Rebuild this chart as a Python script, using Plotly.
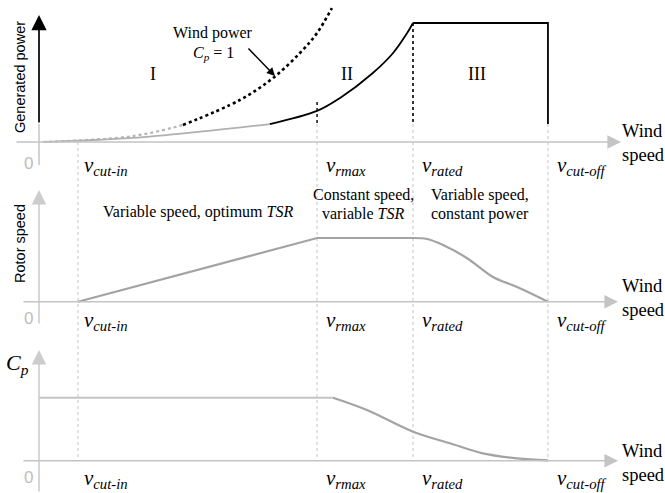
import plotly.graph_objects as go

W, H = 665, 493

# ---------------- data (arbitrary units) ----------------
speed_names = ["cut-in", "rmax", "rated", "cut-off"]
speed_values = [1.0, 7.13, 9.59, 13.05]

# generated power (normalised to rated power)
power_v_grey = [0.10, 1.00, 2.41, 4.13, 5.92]
power_p_grey = [0.0, 0.011, 0.034, 0.087, 0.151]
power_v_black = [5.92, 7.13, 7.72, 8.56, 9.08, 9.44, 9.59]
power_p_black = [0.151, 0.261, 0.370, 0.580, 0.748, 0.916, 1.0]
plateau_v = [9.59, 13.05, 13.05]
plateau_p = [1.0, 1.0, 0.151]

# wind power, Cp = 1
wind_v_grey = [0.10, 2.41, 3.69]
wind_p_grey = [0.0, 0.050, 0.143]
wind_v_black = [3.69, 5.15, 6.00, 6.69, 7.13, 7.51]
wind_p_black = [0.143, 0.353, 0.538, 0.748, 0.916, 1.126]

# rotor speed (normalised)
rotor_v = [1.0, 7.13, 9.59, 9.95, 10.36, 10.97, 11.64, 12.26, 13.05]
rotor_w = [0.0, 1.0, 1.0, 0.984, 0.89, 0.686, 0.388, 0.231, 0.0]

# power coefficient (normalised)
cp_v = [0.0, 7.54, 8.41, 9.59, 10.54, 11.38, 12.26, 13.05]
cp_c = [1.0, 1.0, 0.805, 0.46, 0.276, 0.117, 0.038, 0.006]

region_labels = ["I", "II", "III"]

# ---------------- geometry helpers (layout only) ----------------
X0PX, XSCALE = 39.0, 39.0          # pixel of v=0, pixels per unit
XRANGE = [(0 - X0PX) / XSCALE, (W - X0PX) / XSCALE]

# panels: (top px, bottom px, zero px, px per unit)
panels = [(0, 170, 142.0, 119.0), (170, 330, 301.7, 63.7), (330, H, 460.7, 63.0)]


def px2v(px):
    return (px - X0PX) / XSCALE


def px2y(i, py):
    t, b, z, s = panels[i]
    return (z - py) / s


def pp(px, py):
    return px / W, 1 - py / H


SERIF = "Liberation Serif"
SANS = "Liberation Sans"
GREY = "#c4c4c4"
CURVE_GREY = "#a3a3a3"

fig = go.Figure()

# ---- panel 1: generated power ----
fig.add_trace(go.Scatter(x=wind_v_grey, y=wind_p_grey, mode="lines", line=dict(color="#b5b5b5", width=2.2, dash="dot", shape="spline"), yaxis="y", hoverinfo="skip"))
fig.add_trace(go.Scatter(x=wind_v_black, y=wind_p_black, mode="lines", line=dict(color="black", width=2.6, dash="dot", shape="spline"), yaxis="y", hoverinfo="skip"))
fig.add_trace(go.Scatter(x=power_v_grey, y=power_p_grey, mode="lines", line=dict(color="#b0b0b0", width=1.8, shape="spline"), yaxis="y", hoverinfo="skip"))
fig.add_trace(go.Scatter(x=power_v_black, y=power_p_black, mode="lines", line=dict(color="black", width=1.8, shape="spline"), yaxis="y", hoverinfo="skip"))
fig.add_trace(go.Scatter(x=plateau_v, y=plateau_p, mode="lines", line=dict(color="black", width=1.8), yaxis="y", hoverinfo="skip"))

# ---- panel 2: rotor speed ----
fig.add_trace(go.Scatter(x=rotor_v[:3], y=rotor_w[:3], mode="lines", line=dict(color=CURVE_GREY, width=2.2), xaxis="x", yaxis="y2", hoverinfo="skip"))
fig.add_trace(go.Scatter(x=rotor_v[2:], y=rotor_w[2:], mode="lines", line=dict(color=CURVE_GREY, width=2.2, shape="spline"), xaxis="x", yaxis="y2", hoverinfo="skip"))

# ---- panel 3: Cp ----
fig.add_trace(go.Scatter(x=cp_v[:2], y=cp_c[:2], mode="lines", line=dict(color=GREY, width=2), xaxis="x", yaxis="y3", hoverinfo="skip"))
fig.add_trace(go.Scatter(x=cp_v[1:], y=cp_c[1:], mode="lines", line=dict(color=CURVE_GREY, width=2.2, shape="spline"), xaxis="x", yaxis="y3", hoverinfo="skip"))

shapes = []
# vertical dotted guide lines
for name, v in zip(speed_names, speed_values):
    top_px = 142 if name == "cut-in" else 124
    shapes.append(dict(type="line", xref="x", yref="paper", x0=v, x1=v, y0=1 - top_px / H, y1=1 - 461 / H,
                       line=dict(color=GREY, width=1, dash="dot"), layer="below"))
# black dotted segments in the power panel
shapes.append(dict(type="line", xref="x", yref="y", x0=speed_values[2], x1=speed_values[2], y0=1.0, y1=px2y(0, 124),
                   line=dict(color="black", width=1.6, dash="dot")))
shapes.append(dict(type="line", xref="x", yref="y", x0=speed_values[1], x1=speed_values[1], y0=px2y(0, 102), y1=px2y(0, 124),
                   line=dict(color="black", width=1.4, dash="dot")))
# grey lower part of the power axis
shapes.append(dict(type="line", xref="x", yref="y", x0=0, x1=0, y0=px2y(0, 124), y1=px2y(0, 165),
                   line=dict(color=GREY, width=1.5)))

annotations = []


def arrow(yref, x0, y0, x1, y1, color, width, size):
    return dict(xref="x", yref=yref, axref="x", ayref=yref, x=x1, y=y1, ax=x0, ay=y0, text="",
                showarrow=True, arrowhead=2, arrowsize=size, arrowwidth=width, arrowcolor=color, standoff=0)


# axes with arrows
annotations.append(arrow("y", 0, px2y(0, 124), 0, px2y(0, 15), "black", 1.7, 1.8))
annotations.append(arrow("y", px2v(15), 0, px2v(621), 0, GREY, 1.6, 1.7))
annotations.append(arrow("y2", 0, px2y(1, 325), 0, px2y(1, 190), "#cccccc", 1.6, 1.8))
annotations.append(arrow("y2", px2v(22), 0, px2v(618), 0, GREY, 1.6, 1.7))
annotations.append(arrow("y3", 0, px2y(2, 493), 0, px2y(2, 350), "#cccccc", 1.6, 1.8))
annotations.append(arrow("y3", px2v(22), 0, px2v(618), 0, GREY, 1.6, 1.7))

# wind-power pointer
annotations.append(dict(xref="x", yref="y", axref="x", ayref="y", x=px2v(275), y=px2y(0, 76), ax=px2v(247), ay=px2y(0, 47),
                        text="", showarrow=True, arrowhead=2, arrowsize=1.1, arrowwidth=1.5, arrowcolor="black", standoff=0))


def text(px, py, s, size, family=SERIF, color="black", xanchor="center", yanchor="middle", angle=0):
    x, y = pp(px, py)
    return dict(xref="paper", yref="paper", x=x, y=y, text=s, showarrow=False, xanchor=xanchor, yanchor=yanchor,
                textangle=angle, font=dict(family=family, size=size, color=color), align="left", borderpad=0)


annotations.append(text(213, 33, "Wind power", 16))
annotations.append(text(213, 53, "<i>C</i><sub><i>p</i></sub> = 1", 16))
for lab, cx in zip(region_labels, [153, 347, 477]):
    annotations.append(text(cx, 74, lab, 18))
annotations.append(text(20, 77, "Generated power", 14.5, family=SANS, angle=-90))
annotations.append(text(20, 244, "Rotor speed", 14.5, family=SANS, angle=-90))
annotations.append(text(17, 364, "<i>C</i><sub><i>p</i></sub>", 22))

annotations.append(text(198, 212, "Variable speed, optimum <i>TSR</i>", 16))
annotations.append(text(363, 195, "Constant speed,", 16))
annotations.append(text(363, 214, "variable <i>TSR</i>", 16))
annotations.append(text(480, 195, "Variable speed,", 16))
annotations.append(text(480, 214, "constant power", 16))

for zy, ly, wy in [(163, 166, 143), (318, 321, 298), (477, 479, 463)]:
    annotations.append(text(28, zy, "0", 17, family=SANS, color="#bdbdbd"))
    annotations.append(text(621, wy, "Wind<br>speed", 18.5, xanchor="left"))
    for name, v in zip(speed_names, speed_values):
        x, y = pp(0, ly)
        off = 5 if name == "cut-in" else 8
        annotations.append(dict(xref="x", yref="paper", x=v + off / XSCALE, y=y, xanchor="left", yanchor="middle",
                                showarrow=False, text=f"<i>v</i><sub><i>{name}</i></sub>", borderpad=0,
                                font=dict(family=SERIF, size=21, color="black")))

ydomains = []
yranges = []
for (t, b, z, s) in panels:
    ydomains.append([1 - b / H, 1 - t / H])
    yranges.append([(z - b) / s, (z - t) / s])

hidden = dict(visible=False, showgrid=False, zeroline=False, fixedrange=True)
fig.update_layout(
    width=W, height=H, margin=dict(l=0, r=0, t=0, b=0),
    paper_bgcolor="white", plot_bgcolor="white", showlegend=False,
    xaxis=dict(hidden, range=XRANGE, domain=[0, 1]),
    yaxis=dict(hidden, range=yranges[0], domain=ydomains[0], anchor="x"),
    yaxis2=dict(hidden, range=yranges[1], domain=ydomains[1], anchor="x"),
    yaxis3=dict(hidden, range=yranges[2], domain=ydomains[2], anchor="x"),
    shapes=shapes, annotations=annotations,
)

fig.write_html("out.html", config={"displayModeBar": False},
               post_script="document.body.style.margin='0';document.body.style.overflow='hidden';")
